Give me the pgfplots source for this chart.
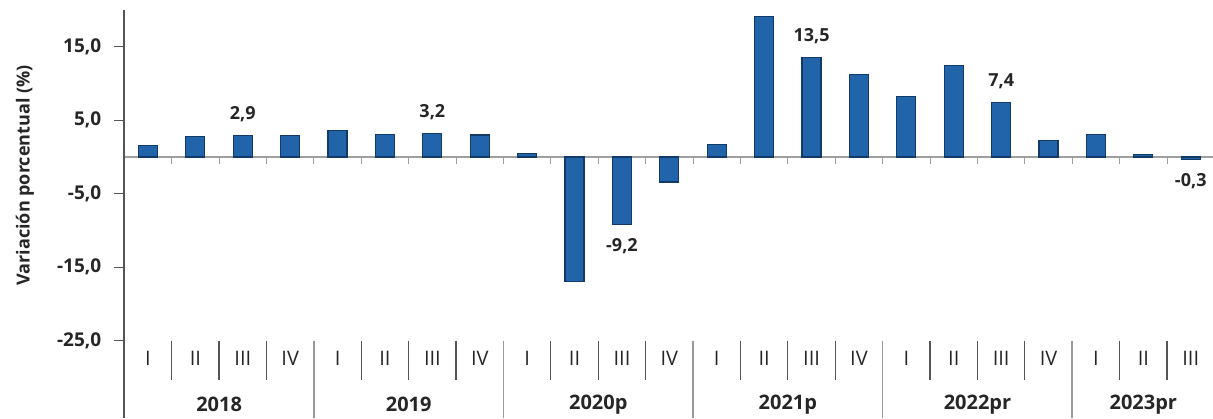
\documentclass[border=0pt]{standalone}
\usepackage{pgfplots}
\pgfplotsset{compat=1.18}
\usepackage{pgfplotstable}
\usepackage{fontspec}
\setmainfont{Open Sans}

\definecolor{barblue}{RGB}{33,100,170}
\definecolor{bardark}{RGB}{18,58,105}
\definecolor{axgray}{RGB}{85,85,85}

% variacion porcentual trimestral
\pgfplotstableread{
x y lab
0 1.6 {}
1 2.8 {}
2 2.9 {2,9}
3 2.9 {}
4 3.6 {}
5 3.1 {}
6 3.2 {3,2}
7 3.0 {}
8 0.5 {}
9 -16.9 {}
10 -9.2 {-9,2}
11 -3.4 {}
12 1.7 {}
13 19.1 {}
14 13.5 {13,5}
15 11.2 {}
16 8.2 {}
17 12.4 {}
18 7.4 {7,4}
19 2.2 {}
20 3.1 {}
21 0.3 {}
22 -0.3 {-0,3}
}\pibdata

\begin{document}
\begin{tikzpicture}
\useasboundingbox (-62.15pt,-38.6pt) rectangle (544.35pt,170.4pt);
\begin{axis}[
    at={(0pt,0pt)}, anchor=south west,
    scale only axis,
    width=544.35pt, height=165.4pt,
    xmin=-0.5, xmax=22.47,
    ymin=-25, ymax=20,
    clip=false,
    axis line style={draw=none},
    ybar, bar width=9.5pt,
    xtick={0,...,22},
    xticklabels={I,II,III,IV,I,II,III,IV,I,II,III,IV,I,II,III,IV,I,II,III,IV,I,II,III},
    xtick style={draw=none},
    xtick pos=bottom,
    xticklabel style={font=\fontsize{10}{12}\selectfont, anchor=center, yshift=-4pt, text=black!85},
    ytick={-25,-15,-5,5,15},
    ytick pos=left,
    tick align=outside,
    major tick length=5pt,
    ytick style={axgray, line width=0.5pt},
    yticklabel style={font=\bfseries\fontsize{9.5}{12}\selectfont, xshift=-3pt, text=black!85},
    /pgf/number format/assume math mode=true,
    y tick label style={/pgf/number format/.cd, fixed, fixed zerofill, precision=1, use comma},
    ylabel={\bfseries Variación porcentual (\%)},
    every axis y label/.style={at={(rel axis cs:-0.0912,0.5)}, rotate=90, anchor=center,
        font=\fontsize{9}{11}\selectfont, text=black!85},
]
% linea del cero
\draw[gray!75, line width=0.8pt] (axis cs:-0.5,0) -- (axis cs:22.47,0);
\pgfplotsinvokeforeach{0,...,21}{
  \draw[gray!75, line width=0.5pt] (axis cs:#1.5,0) -- ++(0pt,-3.5pt);
}

\addplot[draw=bardark, line width=0.6pt, fill=barblue,
    nodes near coords,
    point meta=explicit symbolic,
    visualization depends on={rawy \as \yval},
    every node near coord/.append style={font=\bfseries\fontsize{9}{11}\selectfont,
        anchor=south, inner sep=6.5pt, text=black!85,
        yshift={-21.5pt*(\yval<0)}}]
    table[x=x, y=y, meta=lab] {\pibdata};

% separadores de trimestre y de año
\pgfplotsinvokeforeach{0,...,21}{
  \draw[axgray, line width=0.6pt] (axis cs:#1.5,-25) -- ++(0pt,-19.6pt);
}
\pgfplotsinvokeforeach{3,7,11,15,19}{
  \draw[gray!80, line width=0.8pt] (axis cs:#1.5,-25) -- ++(0pt,-38.6pt);
}
\draw[axgray, line width=0.8pt] (rel axis cs:0,1) -- (rel axis cs:0,-0.2336);

\node[font=\bfseries\fontsize{10}{12}\selectfont, text=black!85] at (axis cs:1.5,-33.7) {2018};
\node[font=\bfseries\fontsize{10}{12}\selectfont, text=black!85] at (axis cs:5.5,-33.7) {2019};
\node[font=\bfseries\fontsize{10}{12}\selectfont, text=black!85] at (axis cs:9.5,-33.7) {2020p};
\node[font=\bfseries\fontsize{10}{12}\selectfont, text=black!85] at (axis cs:13.5,-33.7) {2021p};
\node[font=\bfseries\fontsize{10}{12}\selectfont, text=black!85] at (axis cs:17.5,-33.7) {2022pr};
\node[font=\bfseries\fontsize{10}{12}\selectfont, text=black!85] at (axis cs:21,-33.7) {2023pr};
\end{axis}
\end{tikzpicture}
\end{document}
